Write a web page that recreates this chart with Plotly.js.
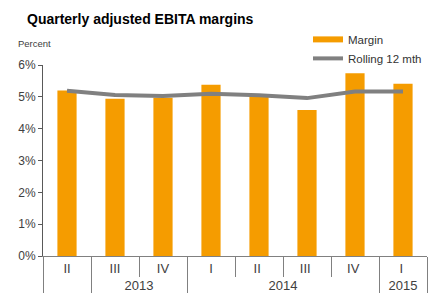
<!DOCTYPE html>
<html>
<head>
<meta charset="utf-8">
<script src="https://cdn.plot.ly/plotly-3.0.1.min.js"></script>
<style>html,body{margin:0;padding:0;background:#fff;}#chart{width:428px;height:298px;}</style>
</head>
<body>
<div id="chart"></div>
<script>
// Year groups (first quarter's year label is not shown in the reference)
var years = [" ", "2013", "2013", "2014", "2014", "2014", "2014", "2015"];
// Quarter labels; trailing spaces only keep repeated labels distinct so the order is kept
var quarters = ["II", "III", "IV", "I", "II ", "III ", "IV ", "I "];
var margin = [5.2, 4.94, 4.97, 5.38, 5.03, 4.59, 5.74, 5.41];
var rolling = [5.19, 5.06, 5.03, 5.1, 5.05, 4.96, 5.17, 5.17];
var yTicks = [0, 1, 2, 3, 4, 5, 6];
var yTickText = ["0%", "1%", "2%", "3%", "4%", "5%", "6%"];

var orange = "#F59C00";
var grey = "#808080";
var fontFam = "Liberation Sans, Arial, sans-serif";

var traces = [
  {
    type: "bar", x: [years, quarters], y: margin, name: "Margin",
    marker: {color: orange}, showlegend: false, hoverinfo: "skip"
  },
  {
    type: "scatter", mode: "lines", x: [[null], [null]], y: [null], name: "Margin",
    line: {color: orange, width: 6}, showlegend: true
  },
  {
    type: "scatter", mode: "lines", x: [years, quarters], y: rolling, name: "Rolling 12 mth",
    line: {color: grey, width: 4}
  }
];

var layout = {
  width: 428, height: 298,
  margin: {l: 43, r: 1, t: 65, b: 42},
  paper_bgcolor: "#fff", plot_bgcolor: "#fff",
  font: {family: fontFam, size: 12, color: "#404040"},
  showlegend: true,
  bargap: 0.6,
  title: {
    text: "<b>Quarterly adjusted EBITA margins</b>",
    font: {family: fontFam, size: 14, color: "#000"},
    x: 27 / 428, xanchor: "left", xref: "container",
    y: 1 - 19 / 298, yanchor: "middle", yref: "container"
  },
  legend: {
    x: 1, xanchor: "right", y: 1.21, yanchor: "top",
    bgcolor: "rgba(0,0,0,0)", font: {size: 11.5, color: "#333"},
    tracegroupgap: 0, itemwidth: 30
  },
  xaxis: {
    type: "multicategory",
    showline: true, linecolor: "#808080", linewidth: 1,
    ticks: "outside", ticklen: 20, tickcolor: "#808080", tickwidth: 1,
    showdividers: true, dividercolor: "#808080", dividerwidth: 1,
    showgrid: false, zeroline: false,
    tickfont: {size: 13, color: "#404040"}
  },
  yaxis: {
    range: [0, 6], tickvals: yTicks, ticktext: yTickText,
    showline: true, linecolor: "#595959", linewidth: 1,
    ticks: "outside", ticklen: 4, tickcolor: "#595959",
    showgrid: false, zeroline: false,
    tickfont: {size: 12, color: "#404040"}
  },
  annotations: [
    {text: "Percent", xref: "paper", yref: "paper", x: -43 / 384 + 16 / 384, xanchor: "left",
     y: 1 + (65 - 43) / 191, yanchor: "middle", showarrow: false,
     font: {size: 9.5, color: "#404040"}}
  ]
};

Plotly.newPlot("chart", traces, layout, {displayModeBar: false, staticPlot: true});
</script>
</body>
</html>
